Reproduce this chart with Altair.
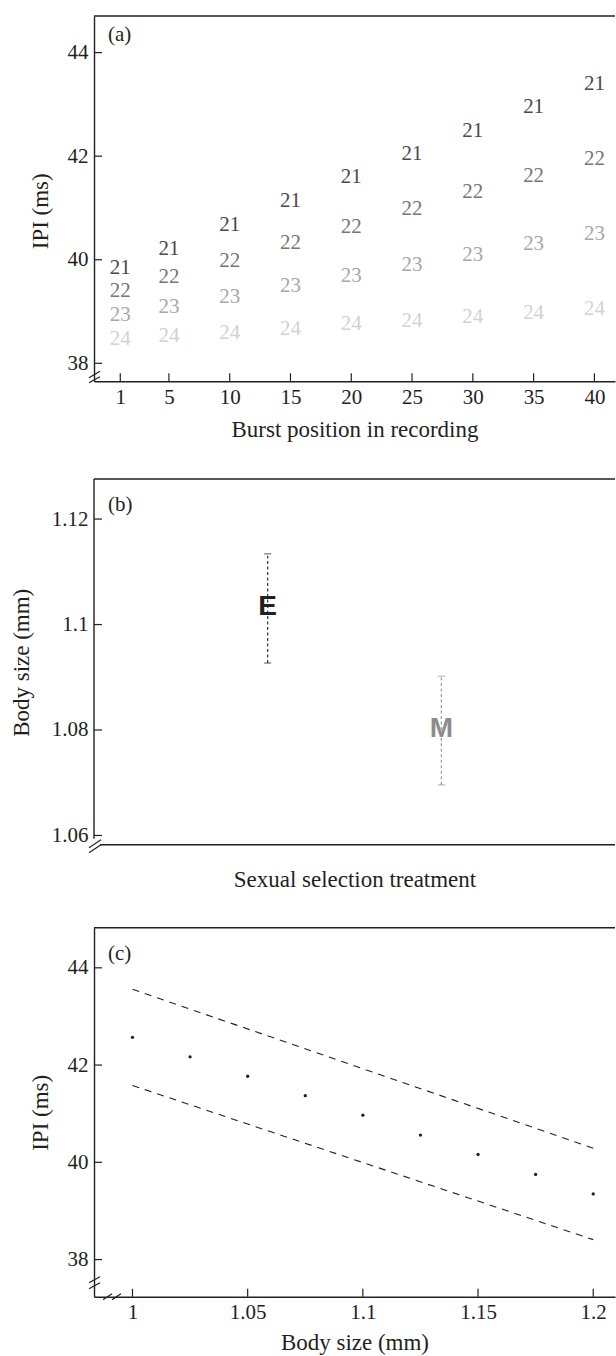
import altair as alt
import pandas as pd

# ---------------- data ----------------
# (a) inter-pulse interval along the recording, one series per temperature
burst_positions = [1, 5, 10, 15, 20, 25, 30, 35, 40]
ipi_21 = [39.85, 40.21, 40.68, 41.14, 41.59, 42.05, 42.49, 42.94, 43.40]
ipi_22 = [39.39, 39.66, 39.98, 40.32, 40.64, 40.98, 41.30, 41.62, 41.94]
ipi_23 = [38.94, 39.09, 39.29, 39.50, 39.69, 39.90, 40.10, 40.30, 40.50]
ipi_24 = [38.46, 38.52, 38.59, 38.67, 38.75, 38.82, 38.90, 38.98, 39.05]
temp_labels = ["21", "22", "23", "24"]
temp_colors = ["#4a4a4a", "#767676", "#a8a8a8", "#d2d2d2"]
a_x_ticks = [1, 5, 10, 15, 20, 25, 30, 35, 40]
a_y_ticks = [38, 40, 42, 44]

# (b) body size by sexual selection treatment (mean with error bar)
treatments = ["E", "M"]
body_mean = [1.1033, 1.0801]
body_lo = [1.0927, 1.0696]
body_hi = [1.1134, 1.0902]
letter_colors = ["#231f20", "#8c8c8c"]
bar_colors = ["#333333", "#9a9a9a"]
b_y_ticks = [1.06, 1.08, 1.10, 1.12]

# (c) predicted IPI against body size with its band
body_size = [1.0, 1.025, 1.05, 1.075, 1.1, 1.125, 1.15, 1.175, 1.2]
ipi_pred = [42.57, 42.17, 41.77, 41.37, 40.97, 40.56, 40.16, 39.75, 39.35]
band_x = [1.0, 1.2]
band_upper = [43.56, 40.29]
band_lower = [41.58, 38.41]
c_x_ticks = [1.0, 1.05, 1.1, 1.15, 1.2]
c_y_ticks = [38, 40, 42, 44]

# ---------------- styling ----------------
INK = "#231f20"
SERIF = "Liberation Serif"
SANS = "Liberation Sans"
LABEL_SIZE = 21
TITLE_SIZE = 23
W = 521.5
HA = 365.7
GAP_B = 15.2          # blank strip above the (b) frame
HB = 366 + GAP_B
HC = 369.3
TICK = 8

one = pd.DataFrame({"k": [0]})


def axis(**kw):
    return alt.Axis(
        ticks=False, grid=False, domainColor=INK, domainWidth=1.4,
        labelFont=SERIF, labelFontSize=LABEL_SIZE, labelColor=INK,
        labelFlush=False, labelOverlap=False,
        titleFont=SERIF, titleFontSize=TITLE_SIZE, titleFontWeight="normal",
        titleColor=INK, **kw)


def seg(x1, y1, x2, y2, color=INK, width=1.2):
    return alt.Chart(one).mark_rule(color=color, strokeWidth=width).encode(
        x=alt.value(x1), x2=alt.value(x2), y=alt.value(y1), y2=alt.value(y2))


def letter(txt, y):
    return alt.Chart(one).mark_text(
        text=txt, font=SERIF, fontSize=LABEL_SIZE, color=INK, align="left",
        baseline="middle").encode(x=alt.value(14), y=alt.value(y))


def x_ticks(values, scale, ax, h):
    # short inward tick marks along the bottom edge
    return alt.Chart(pd.DataFrame({"v": values})).mark_rule(
        color=INK, strokeWidth=1.2).encode(
        x=alt.X("v:Q", scale=scale, axis=ax),
        y=alt.value(h), y2=alt.value(h - TICK))


def y_ticks(values, scale, ax):
    # short inward tick marks along the left edge
    return alt.Chart(pd.DataFrame({"v": values})).mark_rule(
        color=INK, strokeWidth=1.2).encode(
        y=alt.Y("v:Q", scale=scale, axis=ax),
        x=alt.value(0), x2=alt.value(TICK))


# ---------------- panel (a) ----------------
df_a = pd.DataFrame({
    "v": burst_positions * 4,
    "ipi": ipi_21 + ipi_22 + ipi_23 + ipi_24,
    "temp": [t for t in temp_labels for _ in burst_positions],
})
xa = alt.Scale(domain=[-1.161, -1.161 + W / 12.169], nice=False, zero=False)
ya = alt.Scale(domain=[37.653, 44.708], nice=False, zero=False)
ax_a_x = axis(values=a_x_ticks, labelPadding=5, title="Burst position in recording",
              titleBaseline="alphabetic", titleY=55)
ax_a_y = axis(values=a_y_ticks, labelPadding=6, title="IPI (ms)",
              titleBaseline="middle", titleX=-54, titleY=195)

labels_a = alt.Chart(df_a).mark_text(font=SERIF, fontSize=LABEL_SIZE, baseline="middle").encode(
    x=alt.X("v:Q", scale=xa, axis=ax_a_x),
    y=alt.Y("ipi:Q", scale=ya, axis=ax_a_y),
    text="temp:N",
    color=alt.Color("temp:N", scale=alt.Scale(domain=temp_labels, range=temp_colors), legend=None),
)

panel_a = alt.layer(
    labels_a,
    x_ticks(a_x_ticks, xa, ax_a_x, HA),
    y_ticks(a_y_ticks, ya, ax_a_y),
    seg(0, 0, W, 0, width=1.5),
    seg(-5, HA - 3.5, 6, HA - 10),
    seg(-5, HA + 1.5, 6, HA - 4.5),
    letter("(a)", 19),
).properties(width=W, height=HA)

# ---------------- panel (b) ----------------
df_b = pd.DataFrame({
    "treatment": treatments, "mean": body_mean, "lo": body_lo, "hi": body_hi,
    "letter_color": letter_colors, "bar_color": bar_colors,
})
xb = alt.Scale(type="point", domain=treatments, padding=1.11)
yb = alt.Scale(domain=[1.05824, 1.13046], nice=False, zero=False)
ax_b_x = axis(labels=False, domain=False, title="Sexual selection treatment",
              titleBaseline="alphabetic", titleY=41.7)
ax_b_y = axis(values=b_y_ticks, format=".2~f", labelPadding=6, domain=False,
              title="Body size (mm)", titleBaseline="middle", titleX=-72.7, titleY=198.6)

base_b = alt.Chart(df_b)
bars_b = base_b.mark_rule(strokeWidth=1.2, strokeDash=[3, 2.5]).encode(
    x=alt.X("treatment:N", scale=xb, axis=ax_b_x),
    y=alt.Y("lo:Q", scale=yb, axis=ax_b_y),
    y2="hi:Q",
    color=alt.Color("bar_color:N", scale=None),
)
caps_lo = base_b.mark_tick(orient="horizontal", size=7, thickness=1.2).encode(
    x=alt.X("treatment:N", scale=xb, axis=ax_b_x),
    y=alt.Y("lo:Q", scale=yb, axis=ax_b_y),
    color=alt.Color("bar_color:N", scale=None))
caps_hi = base_b.mark_tick(orient="horizontal", size=7, thickness=1.2).encode(
    x=alt.X("treatment:N", scale=xb, axis=ax_b_x),
    y=alt.Y("hi:Q", scale=yb, axis=ax_b_y),
    color=alt.Color("bar_color:N", scale=None))
letters_b = base_b.mark_text(font=SANS, fontWeight="bold", fontSize=28, baseline="middle").encode(
    x=alt.X("treatment:N", scale=xb, axis=ax_b_x),
    y=alt.Y("mean:Q", scale=yb, axis=ax_b_y),
    text="treatment:N", color=alt.Color("letter_color:N", scale=None))

panel_b = alt.layer(
    bars_b, caps_lo, caps_hi, letters_b,
    y_ticks(b_y_ticks, yb, ax_b_y),
    seg(0, GAP_B, W, GAP_B, width=1.5),
    seg(0, GAP_B, 0, HB - 6, width=1.4),
    seg(6, HB, W, HB, width=1.4),
    seg(-5, HB + 8, 7, HB),
    seg(-5, HB + 3, 7, HB - 5),
    letter("(b)", GAP_B + 26),
).properties(width=W, height=HB)

# ---------------- panel (c) ----------------
df_c = pd.DataFrame({"v": body_size, "ipi": ipi_pred})
df_band = pd.DataFrame({"v": band_x, "upper": band_upper, "lower": band_lower})
xc = alt.Scale(domain=[0.9833, 0.9833 + W / 2306], nice=False, zero=False)
yc = alt.Scale(domain=[37.234, 44.822], nice=False, zero=False)
ax_c_x = axis(values=c_x_ticks, format=".2~f", labelPadding=5, title="Body size (mm)",
              titleBaseline="alphabetic", titleY=53)
ax_c_y = axis(values=c_y_ticks, labelPadding=6, title="IPI (ms)",
              titleBaseline="middle", titleX=-54)

points_c = alt.Chart(df_c).mark_circle(size=11, color=INK, opacity=1).encode(
    x=alt.X("v:Q", scale=xc, axis=ax_c_x),
    y=alt.Y("ipi:Q", scale=yc, axis=ax_c_y),
)
upper_c = alt.Chart(df_band).mark_line(color=INK, strokeWidth=1.1, strokeDash=[7, 6]).encode(
    x=alt.X("v:Q", scale=xc, axis=ax_c_x), y=alt.Y("upper:Q", scale=yc, axis=ax_c_y))
lower_c = alt.Chart(df_band).mark_line(color=INK, strokeWidth=1.1, strokeDash=[7, 6]).encode(
    x=alt.X("v:Q", scale=xc, axis=ax_c_x), y=alt.Y("lower:Q", scale=yc, axis=ax_c_y))

panel_c = alt.layer(
    points_c, upper_c, lower_c,
    x_ticks(c_x_ticks, xc, ax_c_x, HC),
    y_ticks(c_y_ticks, yc, ax_c_y),
    seg(0, 0, W, 0, width=1.5),
    seg(-5, HC - 14, 6, HC - 20),
    seg(-5, HC - 8, 6, HC - 14),
    seg(9, HC + 3, 18, HC - 3),
    seg(18, HC + 3, 27, HC - 3),
    letter("(c)", 26),
).properties(width=W, height=HC)

chart = alt.vconcat(panel_a, panel_b, panel_c, spacing=82.4, bounds="flush").configure_view(
    stroke=None
).properties(
    padding={"left": 10.1, "top": 14.3, "right": 0, "bottom": 0}
)

chart.save("out.html", embed_options={"renderer": "svg", "actions": False})
